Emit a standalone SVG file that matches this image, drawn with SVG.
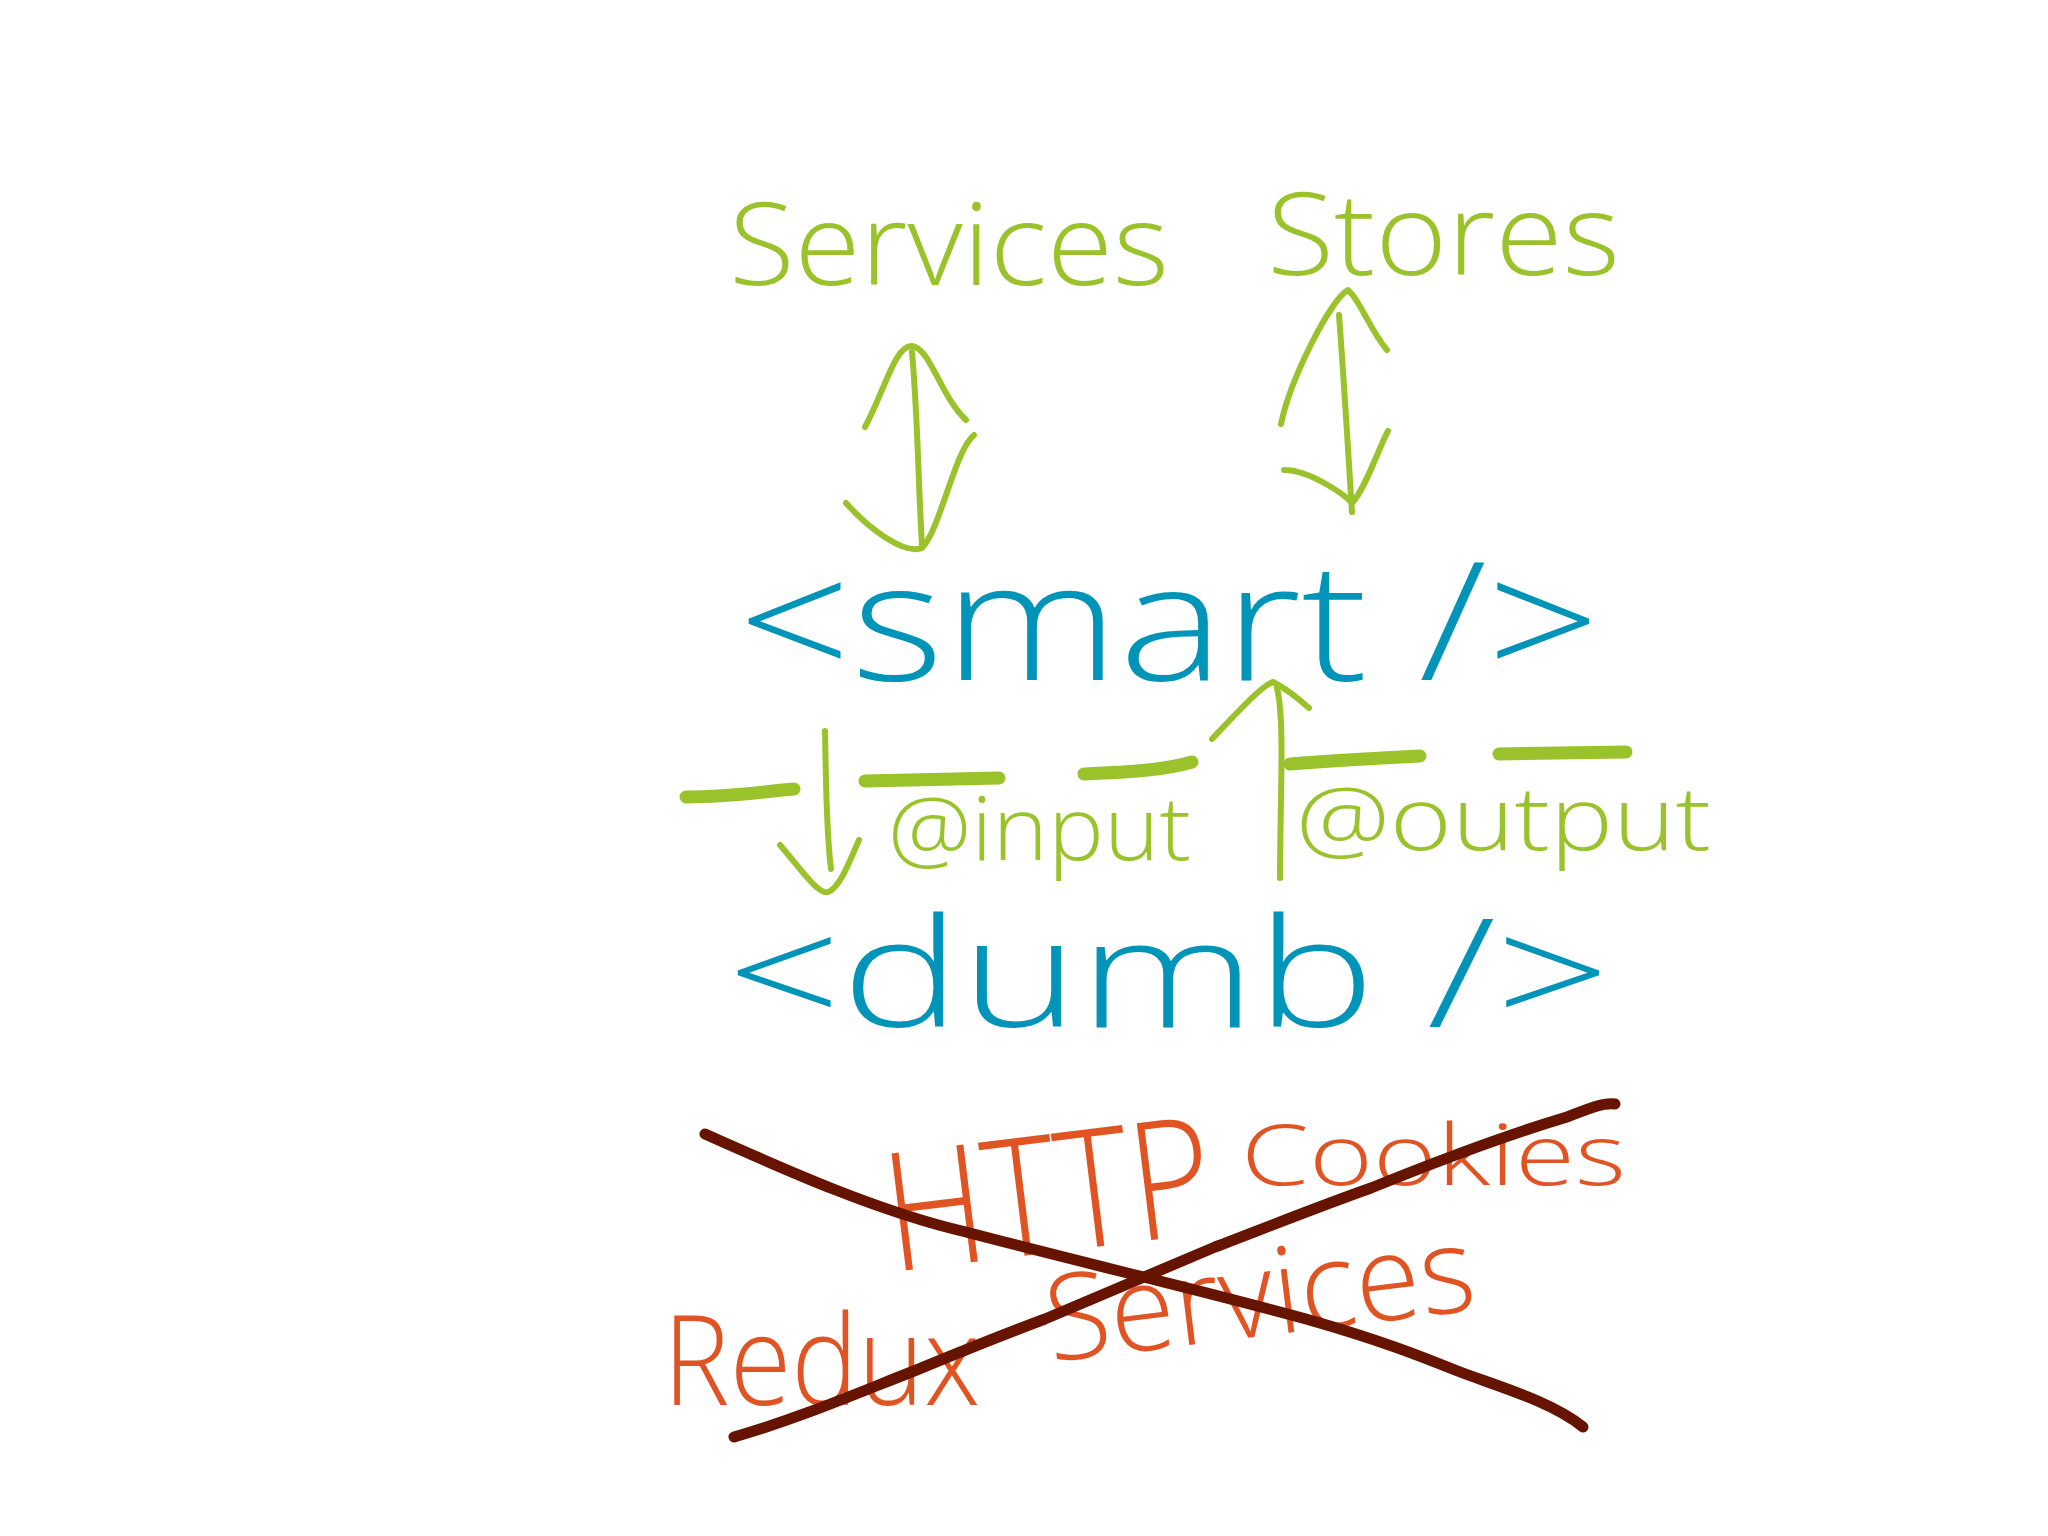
<svg xmlns="http://www.w3.org/2000/svg" width="2048" height="1536" viewBox="0 0 2048 1536">
<style>
text{font-family:"Open Sans","Liberation Sans","DejaVu Sans",sans-serif;font-weight:300}
.g{fill:#9ac22a}
.b{fill:#0095b8}
.o{fill:#e05424}
.gl{fill:none;stroke:#9ac22a;stroke-width:6;stroke-linecap:round;stroke-linejoin:round}
.gd{fill:none;stroke:#9ac22a;stroke-width:13;stroke-linecap:round}
.x{fill:none;stroke:#661400;stroke-width:11;stroke-linecap:round}
</style>
<rect width="2048" height="1536" fill="#fff"/>
<g id="services"><text class="g" x="729" y="285" font-size="115" textLength="440" lengthAdjust="spacingAndGlyphs">Services</text></g>
<g id="stores"><text class="g" x="1267" y="275" font-size="115" textLength="353" lengthAdjust="spacingAndGlyphs">Stores</text></g>
<g id="smart"><text class="b" x="738" y="680" font-size="165" textLength="862" lengthAdjust="spacingAndGlyphs">&lt;smart /&gt;</text></g>
<g id="input"><text class="g" x="888" y="860" font-size="88" textLength="303" lengthAdjust="spacingAndGlyphs">@input</text></g>
<g id="output"><text class="g" x="1296" y="850" font-size="88" textLength="415" lengthAdjust="spacingAndGlyphs">@output</text></g>
<g id="dumb"><text class="b" x="727" y="1027" font-size="152" textLength="883" lengthAdjust="spacingAndGlyphs">&lt;dumb /&gt;</text></g>
<g id="crossed-out">
<text class="o" x="892" y="1272" font-size="165" textLength="329" lengthAdjust="spacingAndGlyphs" transform="rotate(-7 892 1272)">HTTP</text>
<text class="o" x="1241" y="1185" font-size="85" textLength="385" lengthAdjust="spacingAndGlyphs">Cookies</text>
<text class="o" x="663" y="1405" font-size="125" textLength="317" lengthAdjust="spacingAndGlyphs">Redux</text>
<text class="o" x="1051" y="1362" font-size="120" textLength="431" lengthAdjust="spacingAndGlyphs" transform="rotate(-7 1051 1362)">Services</text>
</g>
<g id="connectors">
<path class="gl" d="M912 352 C918 420 918 480 922 545"/>
<path class="gl" d="M865 427 C885 390 895 345 912 346 C930 348 940 395 966 420"/>
<path class="gl" d="M846 503 C870 530 905 555 922 548 C940 530 955 450 974 435"/>
<path class="gl" d="M1339 315 C1344 380 1348 450 1352 512"/>
<path class="gl" d="M1281 424 C1290 380 1330 300 1348 290 C1360 300 1370 330 1387 350"/>
<path class="gl" d="M1284 470 C1310 470 1345 495 1352 503 C1365 490 1380 445 1388 431"/>
<path class="gl" d="M825 731 C826 780 826 830 831 869"/>
<path class="gl" d="M780 845 C800 868 818 895 828 892 C840 888 850 860 859 840"/>
<path class="gl" d="M1280 878 C1280 800 1285 720 1277 688"/>
<path class="gl" d="M1212 739 C1235 715 1262 685 1273 682 C1285 688 1300 700 1309 708"/>
<path class="gd" d="M686 797 C730 797 760 792 794 789"/>
<path class="gd" d="M865 781 L999 778"/>
<path class="gd" d="M1084 774 C1130 772 1165 770 1192 762"/>
<path class="gd" d="M1290 764 C1340 760 1380 758 1420 756"/>
<path class="gd" d="M1499 754 L1626 752"/>
<path class="x" d="M705 1134 C790 1172 880 1212 966 1232 C1080 1262 1200 1290 1306 1319 C1380 1340 1420 1356 1455 1370 C1490 1384 1550 1400 1583 1427"/>
<path class="x" d="M734 1437 C800 1418 860 1392 914 1371 C960 1352 1010 1332 1045 1319 C1100 1296 1160 1270 1215 1247 C1270 1226 1320 1206 1371 1188 C1450 1156 1510 1134 1567 1117 C1590 1108 1605 1102 1615 1104"/>
</g>
</svg>
